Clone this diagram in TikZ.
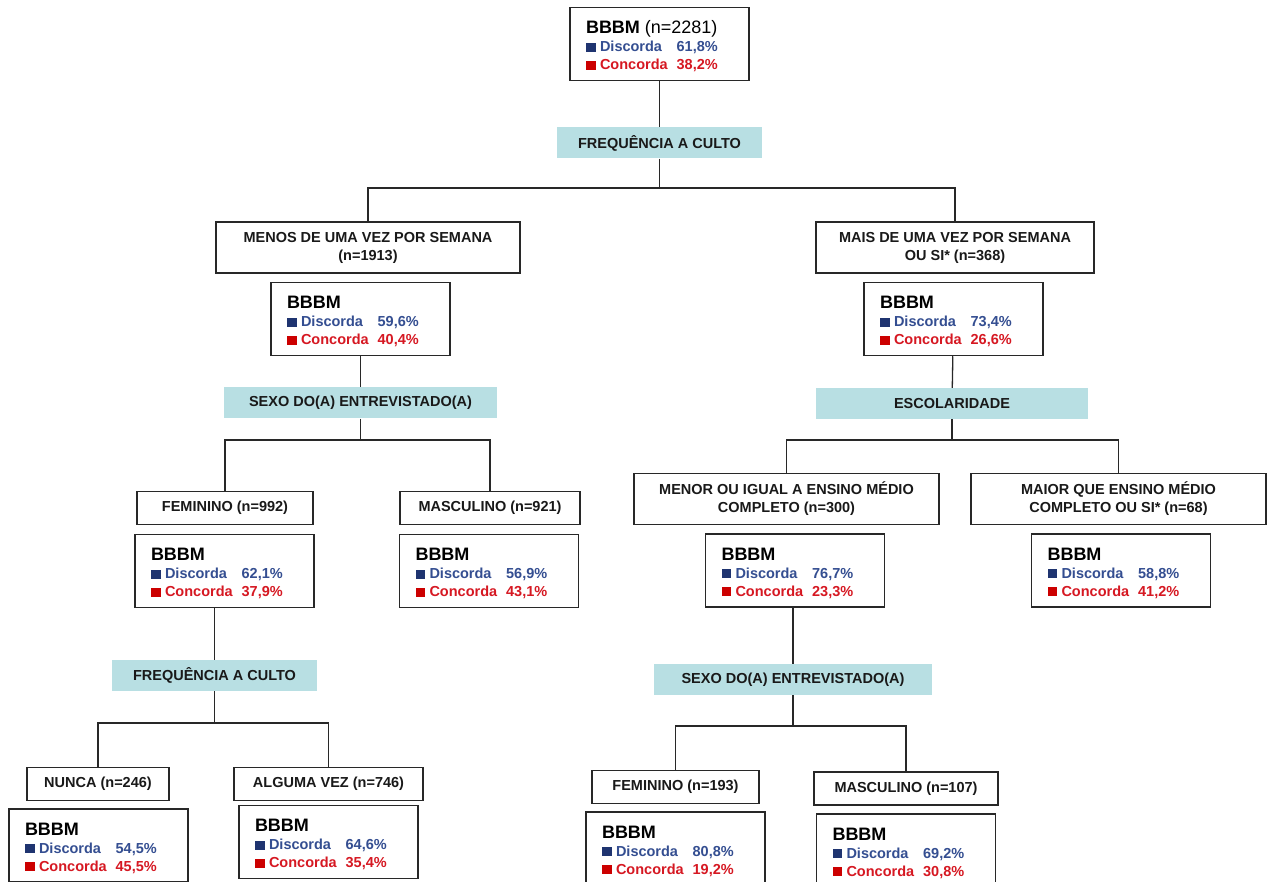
\documentclass[tikz,border=0pt]{standalone}
\usepackage{fontspec}
\setmainfont{Liberation Sans}
\usepackage{xcolor}
\usetikzlibrary{calc}

\definecolor{bandteal}{RGB}{184,223,227}
\definecolor{linegray}{RGB}{40,40,40}
\definecolor{labeltxt}{RGB}{25,25,25}
\definecolor{discsq}{RGB}{31,52,112}
\definecolor{disctxt}{RGB}{52,78,145}
\definecolor{concsq}{RGB}{204,0,0}
\definecolor{conctxt}{RGB}{214,24,34}

\newcommand{\lblfont}{\fontsize{14.5}{18}\selectfont\bfseries}
% stat block: discorda, concorda, extra text after BBBM
\newcommand{\bbbmstat}[3]{%
  \raisebox{-4pt}[\height][\depth]{%
  \begin{tabular}{@{}l@{\hspace{9pt}}l@{}}
  \multicolumn{2}{@{}l@{}}{\fontsize{18}{20}\selectfont\textcolor{black}{\textbf{BBBM}\mdseries#3}}\\
  \textcolor{discsq}{\rule{9.5pt}{9pt}}\hspace{4.5pt}\textcolor{disctxt}{Discorda} & \textcolor{disctxt}{#1}\\
  \textcolor{concsq}{\rule{9.5pt}{9pt}}\hspace{4.5pt}\textcolor{conctxt}{Concorda} & \textcolor{conctxt}{#2}
  \end{tabular}}}

\tikzset{
  catbox/.style={rectangle, draw=linegray, line width=1.5pt, text=labeltxt, font=\lblfont,
    align=center, inner sep=0pt, minimum width=#1, minimum height=33pt},
  catbox/.default=150pt,
  tallbox/.style={catbox=#1, minimum height=51pt},
  varband/.style={rectangle, fill=bandteal, text=labeltxt, font=\lblfont,
    inner sep=0pt, minimum width=#1, minimum height=31pt},
  statbox/.style={rectangle, draw=linegray, line width=1.5pt, font=\lblfont,
    minimum width=179pt, minimum height=73pt, text width=147pt,
    inner xsep=16pt, inner ysep=0pt, align=left},
  link/.style={draw=linegray, line width=1.3pt}
}

\begin{document}
\begin{tikzpicture}[x=1pt, y=-1pt]
		\clip (0,0) rectangle (1267,882);
		\fill[white] (0,0) rectangle (1267,882);
		% root
		\node at (659.5,44) [statbox] (s0) {\bbbmstat{61,8\%}{38,2\%}{\ (n=2281)}};
		\node at (659.5,143) [varband=205pt] (v0) {FREQUÊNCIA A CULTO};
		\node at (368,247.5) [tallbox=304pt] (c1) {MENOS DE UMA VEZ POR SEMANA\\(n=1913)};
		\node at (955,247.5) [tallbox=278pt] (c2) {MAIS DE UMA VEZ POR SEMANA\\OU SI* (n=368)};
		\node at (360.5,319) [statbox] (s1) {\bbbmstat{59,6\%}{40,4\%}{}};
		\node at (953.5,319) [statbox] (s2) {\bbbmstat{73,4\%}{26,6\%}{}};
		% left branch
		\node at (360.5,403) [varband=273pt] (v1) {SEXO DO(A) ENTREVISTADO(A)};
		\node at (225,508) [catbox=176pt] (c11) {FEMININO (n=992)};
		\node at (490,508) [catbox=180pt] (c12) {MASCULINO (n=921)};
		\node at (224.5,571) [statbox] (s11) {\bbbmstat{62,1\%}{37,9\%}{}};
		\node at (489,571) [statbox] (s12) {\bbbmstat{56,9\%}{43,1\%}{}};
		\node at (214.5,675.5) [varband=205pt] (v11) {FREQUÊNCIA A CULTO};
		\node at (98,784) [catbox=142pt] (c111) {NUNCA (n=246)};
		\node at (328.5,784) [catbox=189pt] (c112) {ALGUMA VEZ (n=746)};
		\node at (98.5,845.5) [statbox] (s111) {\bbbmstat{54,5\%}{45,5\%}{}};
		\node at (328.5,842) [statbox] (s112) {\bbbmstat{64,6\%}{35,4\%}{}};
		% right branch
		\node at (952,403.5) [varband=272pt] (v2) {ESCOLARIDADE};
		\node at (786.5,499) [tallbox=305pt] (c21) {MENOR OU IGUAL A ENSINO MÉDIO\\COMPLETO (n=300)};
		\node at (1118.5,499) [tallbox=295pt] (c22) {MAIOR QUE ENSINO MÉDIO\\COMPLETO OU SI* (n=68)};
		\node at (795,570.5) [statbox] (s21) {\bbbmstat{76,7\%}{23,3\%}{}};
		\node at (1121,570.5) [statbox] (s22) {\bbbmstat{58,8\%}{41,2\%}{}};
		\node at (793,679.5) [varband=278pt] (v21) {SEXO DO(A) ENTREVISTADO(A)};
		\node at (675.5,787) [catbox=167pt] (c211) {FEMININO (n=193)};
		\node at (906,788.5) [catbox=184pt] (c212) {MASCULINO (n=107)};
		\node at (675.5,848.5) [statbox] (s211) {\bbbmstat{80,8\%}{19,2\%}{}};
		\node at (906,850.5) [statbox] (s212) {\bbbmstat{69,2\%}{30,8\%}{}};
		% junctions
		\coordinate (j0) at (659.5,188);
		\coordinate (j1) at (360.5,440);
		\coordinate (j2) at (952,440);
		\coordinate (j11) at (214.5,723);
		\coordinate (j21) at (793,726);
		% connectors
		\draw[link] (s0) -- (v0);
		\draw[link] (v0) -- (j0);
		\draw[link] (c1) |- (j0) -| (c2);
		\draw[link] (s1) -- (v1);
		\draw[link] (v1) -- (j1);
		\draw[link] (c11) |- (j1) -| (c12);
		\draw[link] (v11) -- (v11 |- s11.south);
		\draw[link] (v11) -- (j11);
		\draw[link] (c111) |- (j11) -| (c112);
		\draw[link] (s2) -- (v2);
		\draw[link] (v2) -- (j2);
		\draw[link] (c21) |- (j2) -| (c22);
		\draw[link] (v21) -- (v21 |- s21.south);
		\draw[link] (v21) -- (j21);
		\draw[link] (c211) |- (j21) -| (c212);
		\end{tikzpicture}
\end{document}
